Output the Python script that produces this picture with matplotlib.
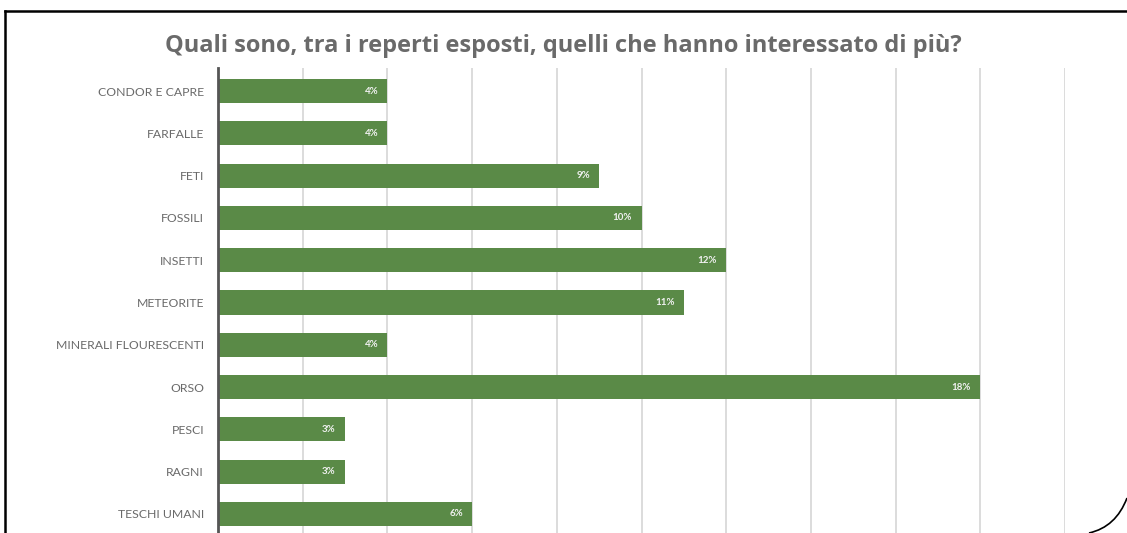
import matplotlib
matplotlib.use("Agg")
import matplotlib.pyplot as plt
from matplotlib.patches import PathPatch
from matplotlib.path import Path
from matplotlib.lines import Line2D

categories = ["CONDOR E CAPRE", "FARFALLE", "FETI", "FOSSILI", "INSETTI", "METEORITE",
              "MINERALI FLOURESCENTI", "ORSO", "PESCI", "RAGNI", "TESCHI UMANI"]
percent = [4, 4, 9, 10, 12, 11, 4, 18, 3, 3, 6]
title = "Quali sono, tra i reperti esposti, quelli che hanno interessato di più?"

W, H = 1127, 533
fig = plt.figure(figsize=(W / 100, H / 100), dpi=100)
fig.patch.set_facecolor("white")

green = "#5a8a47"
grid_grey = "#d9d9d9"
text_grey = "#6a6a6a"

# plot area in pixel coordinates
x0, x1 = 218, 1065
ytop, ybot = 68, 533
ax = fig.add_axes([x0 / W, 1 - ybot / H, (x1 - x0) / W, (ybot - ytop) / H])
ax.set_facecolor("none")

pos = list(range(len(categories)))
ax.barh(pos, percent, height=0.57, color=green, zorder=3)
for p, v in zip(pos, percent):
    ax.text(v - 0.22, p, f"{v}%", ha="right", va="center", color="#f2f2f2",
            fontsize=7, fontweight="bold", family="Lato", zorder=4)

ax.set_xlim(0, 20)
ax.set_ylim(10.45, -0.544)
ax.set_xticks(range(0, 21, 2))
ax.xaxis.grid(True, color=grid_grey, linewidth=1.3, zorder=0)
ax.tick_params(axis="x", length=0, labelbottom=False)
ax.set_yticks(pos)
ax.set_yticklabels(categories, family="Lato", fontsize=8.8, color=text_grey)
ax.tick_params(axis="y", length=0, pad=10)
for s in ["top", "right", "bottom"]:
    ax.spines[s].set_visible(False)
ax.spines["left"].set_color("#555555")
ax.spines["left"].set_linewidth(2.0)
ax.spines["left"].set_zorder(5)

fig.text(563 / W, 1 - 46 / H, title, ha="center", va="center", family="Open Sans",
         fontweight="bold", fontsize=17, color=text_grey)

# outer frame: top and left edges, rounded corner at bottom right
fig.add_artist(Line2D([5 / W, 1.0], [1 - 11 / H, 1 - 11 / H], color="black",
                      linewidth=1.8, transform=fig.transFigure))
fig.add_artist(Line2D([5 / W, 5 / W], [1 - 11 / H, 0], color="black",
                      linewidth=1.8, transform=fig.transFigure))
corner = Path([(1127 / W, 1 - 498 / H), (1116 / W, 1 - 527 / H), (1089 / W, 0.0)],
              [Path.MOVETO, Path.CURVE3, Path.CURVE3])
fig.add_artist(PathPatch(corner, facecolor="none", edgecolor="black", linewidth=1.2,
                         transform=fig.transFigure))

fig.savefig("out.png", dpi=100, facecolor="white")
